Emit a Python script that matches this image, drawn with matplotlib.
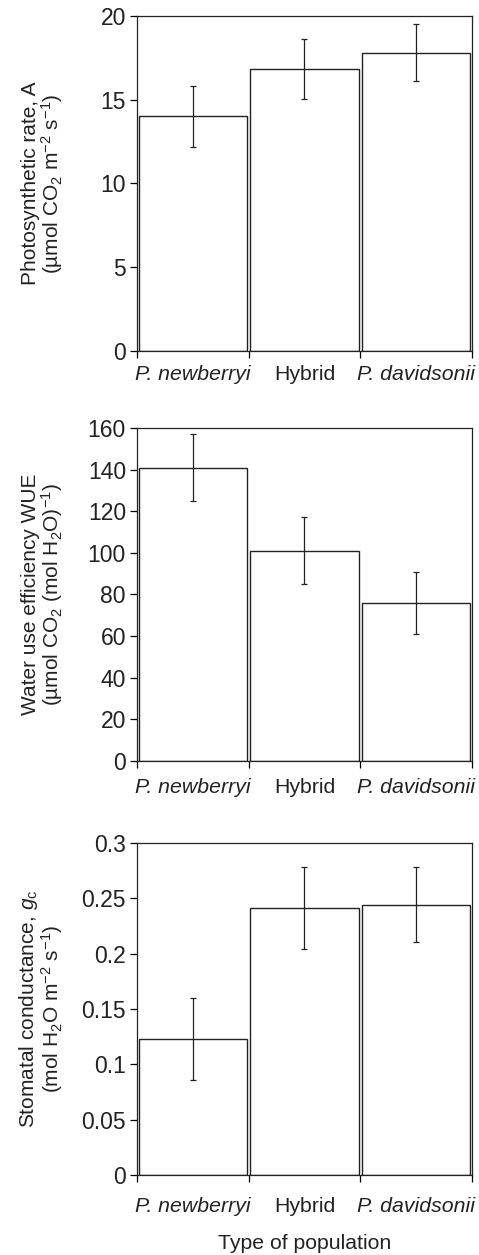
import numpy as np
import matplotlib
matplotlib.use("Agg")
from matplotlib import pyplot as plt

plt.rcParams['font.family'] = ['Liberation Sans', 'DejaVu Sans']
plt.rcParams['mathtext.fontset'] = 'custom'
plt.rcParams['mathtext.rm'] = 'Liberation Sans'
plt.rcParams['mathtext.it'] = 'Liberation Sans:italic'
plt.rcParams['font.size'] = 15

# Data
populations = ['P. newberryi', 'Hybrid', 'P. davidsonii']
italic = [True, False, True]

photo_mean = [14.0, 16.85, 17.8]
photo_err = [1.8, 1.8, 1.7]

wue_mean = [141, 101, 76]
wue_err = [16, 16, 15]

gc_mean = [0.123, 0.241, 0.244]
gc_err = [0.037, 0.037, 0.034]

panels = [
    (photo_mean, photo_err, (0, 20), [0, 5, 10, 15, 20], ['0', '5', '10', '15', '20'],
     'Photosynthetic rate, A\n(µmol CO$_2$ m$^{-2}$ s$^{-1}$)'),
    (wue_mean, wue_err, (0, 160), list(range(0, 161, 20)), [str(v) for v in range(0, 161, 20)],
     'Water use efficiency WUE\n(µmol CO$_2$ (mol H$_2$O)$^{-1}$)'),
    (gc_mean, gc_err, (0, 0.3), [0, 0.05, 0.1, 0.15, 0.2, 0.25, 0.3],
     ['0', '0.05', '0.1', '0.15', '0.2', '0.25', '0.3'],
     'Stomatal conductance, $\\mathit{g}_\\mathrm{c}$\n(mol H$_2$O m$^{-2}$ s$^{-1}$)'),
]

# axes boxes in figure fractions
boxes = [
    [0.286, 0.7203, 0.699, 0.267],
    [0.286, 0.3936, 0.699, 0.2654],
    [0.286, 0.0637, 0.699, 0.2648],
]
xpads = [10, 12, 16]

fig = plt.figure(figsize=(4.79, 12.55), dpi=100)

for i, (mean, err, ylim, yt, ytl, ylab) in enumerate(panels):
    ax = fig.add_axes(boxes[i])
    x = np.arange(len(populations))
    ax.bar(x, mean, width=0.97, color='white', edgecolor='#222222', linewidth=1.0)
    ax.errorbar(x, mean, yerr=err, fmt='none', ecolor='#222222', elinewidth=0.9,
                capsize=2.5, capthick=0.9)
    ax.set_xlim(-0.5, 2.5)
    ax.set_ylim(*ylim)
    ax.set_yticks(yt)
    ax.set_yticklabels(ytl, fontsize=16.5, color='#222222')
    ax.set_xticks([-0.5, 0.5, 1.5, 2.5])
    ax.set_xticklabels([])
    ax.set_xticks(x, minor=True)
    ax.set_xticklabels(populations, minor=True, fontsize=15.3, color='#222222')
    for lab, it in zip(ax.get_xticklabels(minor=True), italic):
        if it:
            lab.set_style('italic')
    ax.tick_params(axis='x', which='minor', length=0, pad=xpads[i])
    ax.tick_params(axis='x', which='major', direction='out', length=5, width=0.9)
    ax.tick_params(axis='y', direction='out', length=5, width=0.9, pad=3)
    for s in ax.spines.values():
        s.set_linewidth(0.9)
        s.set_color('#222222')
    ax.set_ylabel(ylab, fontsize=15, color='#222222', linespacing=0.95)
    ax.yaxis.set_label_coords(-0.215, 0.5)
    if i == 2:
        ax.set_xlabel('Type of population', fontsize=15.3, color='#222222', labelpad=13)

fig.savefig('out.png', dpi=100)
